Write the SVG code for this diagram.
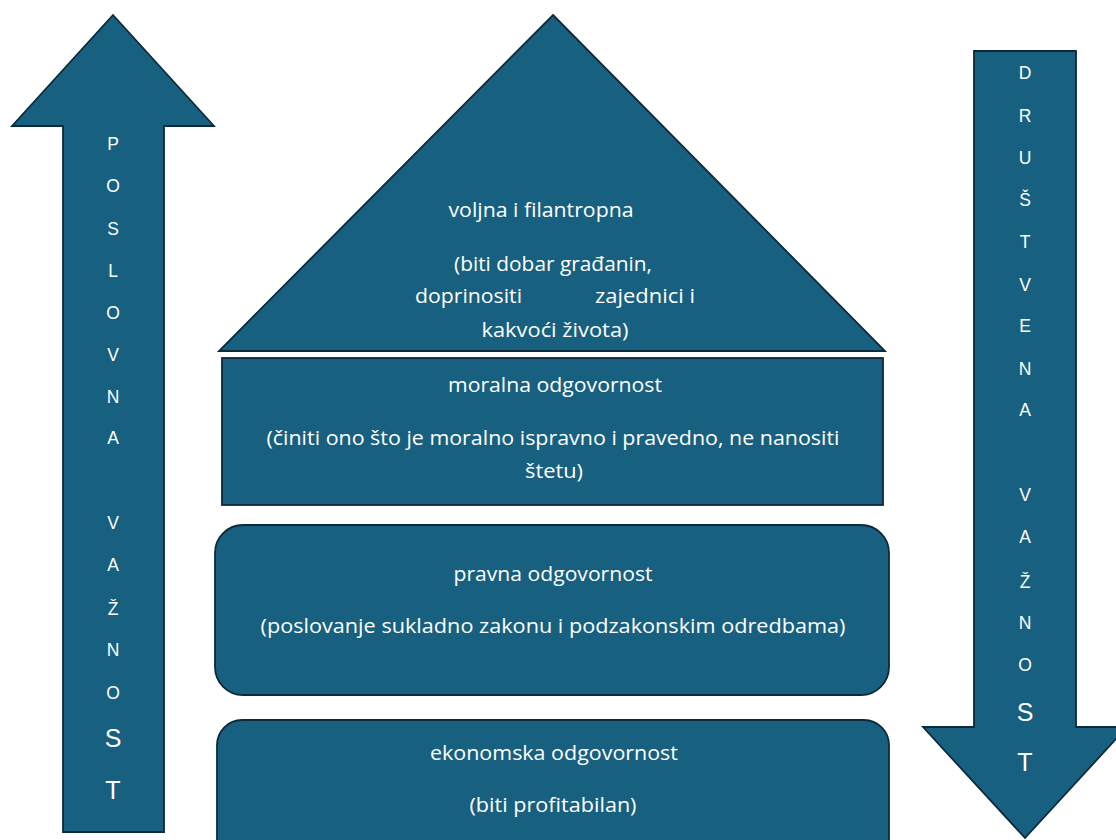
<svg xmlns="http://www.w3.org/2000/svg" width="1116" height="840" viewBox="0 0 1116 840">
<style>
.shape{fill:#18607f;stroke:#0c2a3a;stroke-width:1.8;stroke-linejoin:miter}
.t{fill:#ffffff;font-family:"Open Sans","Noto Sans","Liberation Sans",sans-serif;font-size:20.5px;text-anchor:middle}
.v{fill:#ffffff;font-family:"Liberation Sans",Arial,sans-serif;font-size:17.5px;text-anchor:middle}
.vb{font-size:25px}
</style>
<rect width="1116" height="840" fill="#ffffff"/>
<g id="arrow-left">
<polygon class="shape" points="113,15 214,126 164,126 164,832 63,832 63,126 12,126"/>
<text class="v" x="113" y="150">P</text>
<text class="v" x="113" y="192">O</text>
<text class="v" x="113" y="235">S</text>
<text class="v" x="113" y="277">L</text>
<text class="v" x="113" y="319">O</text>
<text class="v" x="113" y="361">V</text>
<text class="v" x="113" y="403">N</text>
<text class="v" x="113" y="444">A</text>
<text class="v" x="113" y="529">V</text>
<text class="v" x="113" y="571">A</text>
<text class="v" x="113" y="615">Ž</text>
<text class="v" x="113" y="656">N</text>
<text class="v" x="113" y="699">O</text>
<text class="v vb" x="113" y="747">S</text>
<text class="v vb" x="113" y="799">T</text>
</g>
<g id="arrow-right">
<polygon class="shape" points="974,51 1076,51 1076,727 1127,727 1025,838 923,727 974,727"/>
<text class="v" x="1025" y="79">D</text>
<text class="v" x="1025" y="122">R</text>
<text class="v" x="1025" y="164">U</text>
<text class="v" x="1025" y="206">Š</text>
<text class="v" x="1025" y="248">T</text>
<text class="v" x="1025" y="291">V</text>
<text class="v" x="1025" y="332">E</text>
<text class="v" x="1025" y="375">N</text>
<text class="v" x="1025" y="416">A</text>
<text class="v" x="1025" y="501">V</text>
<text class="v" x="1025" y="543">A</text>
<text class="v" x="1025" y="588">Ž</text>
<text class="v" x="1025" y="629">N</text>
<text class="v" x="1025" y="671">O</text>
<text class="v vb" x="1025" y="721">S</text>
<text class="v vb" x="1025" y="771">T</text>
</g>
<g id="roof">
<polygon class="shape" points="553,15 885,351 219,351"/>
<text class="t" x="541" y="217" textLength="185" lengthAdjust="spacingAndGlyphs">voljna i filantropna</text>
<text class="t" x="553" y="271" textLength="198" lengthAdjust="spacingAndGlyphs">(biti dobar građanin,</text>
<text class="t" x="415" y="303" style="text-anchor:start" textLength="107" lengthAdjust="spacingAndGlyphs">doprinositi</text>
<text class="t" x="595" y="303" style="text-anchor:start" textLength="100" lengthAdjust="spacingAndGlyphs">zajednici i</text>
<text class="t" x="555" y="337" textLength="147" lengthAdjust="spacingAndGlyphs">kakvoći života)</text>
</g>
<g id="moral">
<rect class="shape" x="222" y="358" width="661" height="147"/>
<text class="t" x="555" y="392" textLength="214" lengthAdjust="spacingAndGlyphs">moralna odgovornost</text>
<text class="t" x="553" y="445" textLength="573" lengthAdjust="spacingAndGlyphs">(činiti ono što je moralno ispravno i pravedno, ne nanositi</text>
<text class="t" x="554" y="478" textLength="58" lengthAdjust="spacingAndGlyphs">štetu)</text>
</g>
<g id="pravna">
<rect class="shape" x="215" y="525" width="674" height="170" rx="28" ry="28"/>
<text class="t" x="553" y="581" textLength="199" lengthAdjust="spacingAndGlyphs">pravna odgovornost</text>
<text class="t" x="553" y="633" textLength="585" lengthAdjust="spacingAndGlyphs">(poslovanje sukladno zakonu i podzakonskim odredbama)</text>
</g>
<g id="ekonomska">
<rect class="shape" x="217" y="720" width="672" height="150" rx="25" ry="25"/>
<text class="t" x="554" y="760" textLength="248" lengthAdjust="spacingAndGlyphs">ekonomska odgovornost</text>
<text class="t" x="553" y="812" textLength="167" lengthAdjust="spacingAndGlyphs">(biti profitabilan)</text>
</g>
<g id="connectors"></g>
</svg>
